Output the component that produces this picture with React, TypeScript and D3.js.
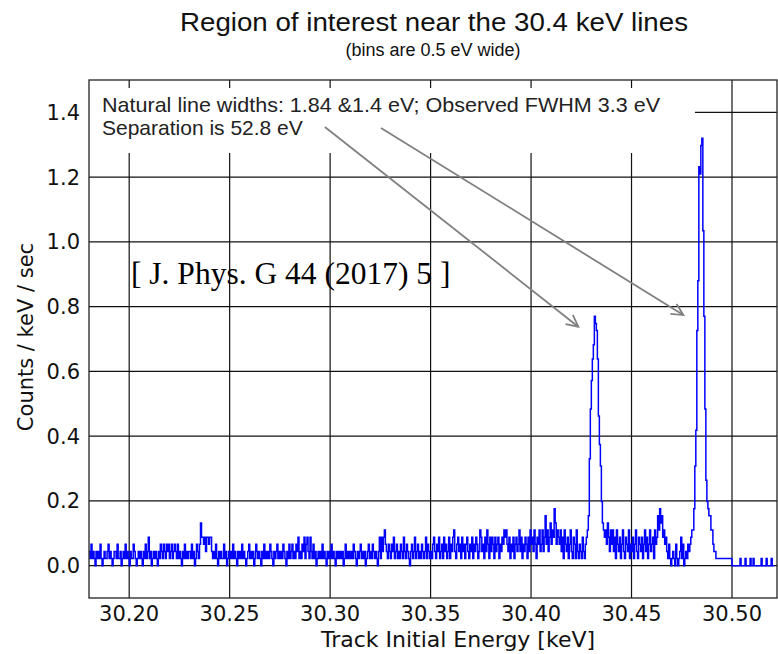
import React from 'react';
import * as d3 from 'd3';

const W = 778;
const H = 654;

const titleText = 'Region of interest near the 30.4 keV lines';
const subtitleText = '(bins are 0.5 eV wide)';
const xLabel = 'Track Initial Energy [keV]';
const yLabel = 'Counts / keV / sec';
const noteLines = ['Natural line widths: 1.84 &1.4 eV; Observed FWHM 3.3 eV', 'Separation is 52.8 eV'];
const citation = '[ J. Phys. G 44 (2017) 5 ]';

const xTicks = [30.2, 30.25, 30.3, 30.35, 30.4, 30.45, 30.5];
const yTicks = [0.0, 0.2, 0.4, 0.6, 0.8, 1.0, 1.2, 1.4];

const BIN_WIDTH_KEV = 0.0005;
const COUNT_UNIT = 0.022; // counts / keV / sec represented by one count level

// counts per 0.5 eV bin, each segment starts at the energy in segStarts
const segStarts = [30.18, 30.205, 30.23, 30.255, 30.28, 30.305, 30.33, 30.355, 30.38, 30.405, 30.43, 30.455, 30.48, 30.505];
const seg30180 = [2,1,3,1,2,1,0,2,1,2, 1,3,1,0,1,2,1,1,2,3, 1,2,1,0,1,2,2,1,3,1, 1,2,0,1,2,1,3,1,2,1, 0,2,1,1,3,2,1,0,1,2];
const seg30205 = [1,2,1,0,2,1,3,1,2,4, 1,2,0,1,2,1,2,1,0,2, 1,3,2,1,3,2,1,3,2,3, 1,2,3,1,2,3,2,1,3,1, 2,1,0,2,1,3,1,2,1,2];
const seg30230 = [2,1,3,1,2,0,1,3,2,1, 3,6,4,4,3,4,2,4,4,3, 4,4,2,1,2,1,3,1,0,2, 1,2,1,1,3,1,2,0,1,2, 1,2,1,3,1,2,1,0,2,1];
const seg30255 = [2,1,3,1,2,1,0,1,2,3, 1,2,1,2,0,1,3,2,1,2, 1,0,2,1,3,1,2,1,2,1, 3,2,1,0,2,1,2,3,1,2, 1,2,1,3,2,1,0,2,1,3];
const seg30280 = [1,2,3,1,2,1,3,2,4,1, 2,1,3,2,4,1,3,4,2,1, 4,2,1,3,1,2,0,1,2,1, 2,1,3,1,2,1,0,2,1,2, 1,3,1,2,1,0,2,1,2,1];
const seg30305 = [2,1,2,0,1,3,1,2,1,2, 1,2,1,3,2,1,0,2,1,2, 3,1,2,1,2,0,1,2,3,1, 2,1,3,2,1,2,1,0,2,4, 1,4,2,4,5,3,2,1,3,2];
const seg30330 = [1,3,2,4,1,2,3,1,2,1, 3,2,1,4,2,1,3,2,1,0, 2,3,1,2,4,1,2,3,1,2, 1,3,2,1,2,4,1,3,2,1, 2,1,3,4,2,1,3,2,4,1];
const seg30355 = [2,3,1,4,2,3,1,2,4,1, 3,2,4,5,2,1,3,4,2,3, 1,4,2,3,1,3,4,2,1,3, 2,4,1,3,2,4,3,1,2,5, 4,2,3,1,4,2,5,3,1,4];
const seg30380 = [2,4,3,1,4,2,3,4,1,3, 2,4,3,5,4,5,3,2,4,1, 3,2,4,1,3,4,2,3,5,2, 4,1,3,2,4,3,1,4,2,5, 3,4,2,5,3,1,4,3,5,2];
const seg30405 = [3,5,2,4,7,3,5,2,4,6, 3,5,4,8,6,3,5,4,3,5, 2,4,1,5,3,2,4,1,3,5, 2,1,4,3,1,5,2,1,3,2, 1,4,2,1,3,4,5,7,15,22];
const seg30430 = [26,29,31,35,34,33,29,21,17,14, 9,6,5,4,5,3,6,4,2,5, 3,5,2,4,1,5,3,2,4,1, 3,5,2,1,4,3,2,5,1,3, 2,4,1,3,5,2,1,4,3,2];
const seg30455 = [4,1,3,5,2,4,1,3,5,2, 3,4,1,5,3,4,7,5,8,6, 7,4,5,3,4,2,1,3,1,0, 1,2,1,0,3,1,0,1,2,4, 1,3,0,1,2,1,3,2,3,4];
const seg30480 = [5,5,8,14,19,33,40,56,55,59, 60,47,35,22,12,9,8,7,7,5, 5,3,2,2,1,1,1,1,1,1, 1,1,1,1,1,1,1,1,1,1, 0,0,0,0,0,0,0,0,1,0];
const seg30505 = [0,0,0,1,0,0,0,0,1,0, 0,1,0,0,0,0,0,0,0,1, 0,0,0,0,1,0,0,0,0,1, 0,0];
const segments = [seg30180, seg30205, seg30230, seg30255, seg30280, seg30305, seg30330, seg30355, seg30380, seg30405, seg30430, seg30455, seg30480, seg30505];

// annotation arrows, data coordinates [keV, counts/keV/sec]
const arrowTails = [[30.2974, 1.355], [30.3253, 1.352]];
const arrowHeads = [[30.4235, 0.738], [30.4758, 0.774]];

export default function App() {
  const left = 89, right = 777, top = 80, bottom = 598;
  const x = d3.scaleLinear().domain([30.18, 30.5224]).range([left, right]);
  const y = d3.scaleLinear().domain([-0.1, 1.5]).range([bottom, top]);

  const bins: { e: number; v: number }[] = [];
  segments.forEach((vals, k) => {
    vals.forEach((c, j) => bins.push({ e: segStarts[k] + j * BIN_WIDTH_KEV, v: c * COUNT_UNIT }));
  });
  const last = bins[bins.length - 1];
  const pts = [...bins, { e: last.e + BIN_WIDTH_KEV, v: last.v }];
  const line = d3.line<{ e: number; v: number }>().x(d => x(d.e)).y(d => y(d.v)).curve(d3.curveStepAfter);

  const gridColor = '#111';
  const boxX0 = left, boxX1 = 695, boxY0 = 88, boxY1 = 153;

  const arrows = arrowTails.map((t, i) => {
    const x0 = x(t[0]), y0 = y(t[1]);
    const x1 = x(arrowHeads[i][0]), y1 = y(arrowHeads[i][1]);
    const ang = Math.atan2(y1 - y0, x1 - x0);
    const L = 13, a = (27 * Math.PI) / 180;
    const p1 = [x1 - L * Math.cos(ang - a), y1 - L * Math.sin(ang - a)];
    const p2 = [x1 - L * Math.cos(ang + a), y1 - L * Math.sin(ang + a)];
    return { x0, y0, x1, y1, head: `M${p1[0]},${p1[1]}L${x1},${y1}L${p2[0]},${p2[1]}` };
  });

  return (
    <svg width={W} height={H} style={{ position: 'absolute', left: 0, top: 0, background: '#fff' }}>
      <rect x={0} y={0} width={W} height={H} fill="#fff" />
      <text x={434} y={31} textAnchor="middle" fontFamily="Liberation Sans, Arial, sans-serif" fontSize={26} textLength={508} lengthAdjust="spacingAndGlyphs" fill="#111">{titleText}</text>
      <text x={433} y={56} textAnchor="middle" fontFamily="Liberation Sans, Arial, sans-serif" fontSize={18} fill="#111">{subtitleText}</text>

      {xTicks.map(t => (
        <line key={'vx' + t} x1={x(t)} x2={x(t)} y1={top} y2={bottom} stroke={gridColor} strokeWidth={1.2} />
      ))}
      {yTicks.map(t => (
        <line key={'hy' + t} x1={left} x2={right} y1={y(t)} y2={y(t)} stroke={gridColor} strokeWidth={1.2} />
      ))}

      <rect x={boxX0} y={boxY0} width={boxX1 - boxX0} height={boxY1 - boxY0} fill="#fff" />

      <path d={line(pts) || ''} fill="none" stroke="#0000ff" strokeWidth={1.5} />

      <rect x={left} y={top} width={right - left} height={bottom - top} fill="none" stroke="#222" strokeWidth={1.3} />

      {noteLines.map((s, i) => (
        <text key={s} x={102} y={112 + i * 23} fontFamily="Liberation Sans, Arial, sans-serif" fontSize={21} textLength={i === 0 ? 558 : undefined} lengthAdjust="spacingAndGlyphs" fill="#222">{s}</text>
      ))}

      {arrows.map((a, i) => (
        <g key={'ar' + i} stroke="#808080" strokeWidth={1.8} fill="none">
          <line x1={a.x0} y1={a.y0} x2={a.x1} y2={a.y1} />
          <path d={a.head} />
        </g>
      ))}

      <text x={131} y={284} fontFamily="Liberation Serif, Times New Roman, serif" fontSize={31.5} fill="#000">{citation}</text>

      {xTicks.map(t => (
        <text key={'xt' + t} x={x(t)} y={621} textAnchor="middle" fontFamily="DejaVu Sans, sans-serif" fontSize={21} fill="#111">{d3.format('.2f')(t)}</text>
      ))}
      {yTicks.map(t => (
        <text key={'yt' + t} x={80} y={y(t) + 7.5} textAnchor="end" fontFamily="DejaVu Sans, sans-serif" fontSize={21} fill="#111">{d3.format('.1f')(t)}</text>
      ))}
      <text x={458} y={647} textAnchor="middle" fontFamily="DejaVu Sans, sans-serif" fontSize={22} fill="#111">{xLabel}</text>
      <text transform={`translate(33,337) rotate(-90)`} textAnchor="middle" fontFamily="DejaVu Sans, sans-serif" fontSize={21} fill="#111">{yLabel}</text>
    </svg>
  );
}
